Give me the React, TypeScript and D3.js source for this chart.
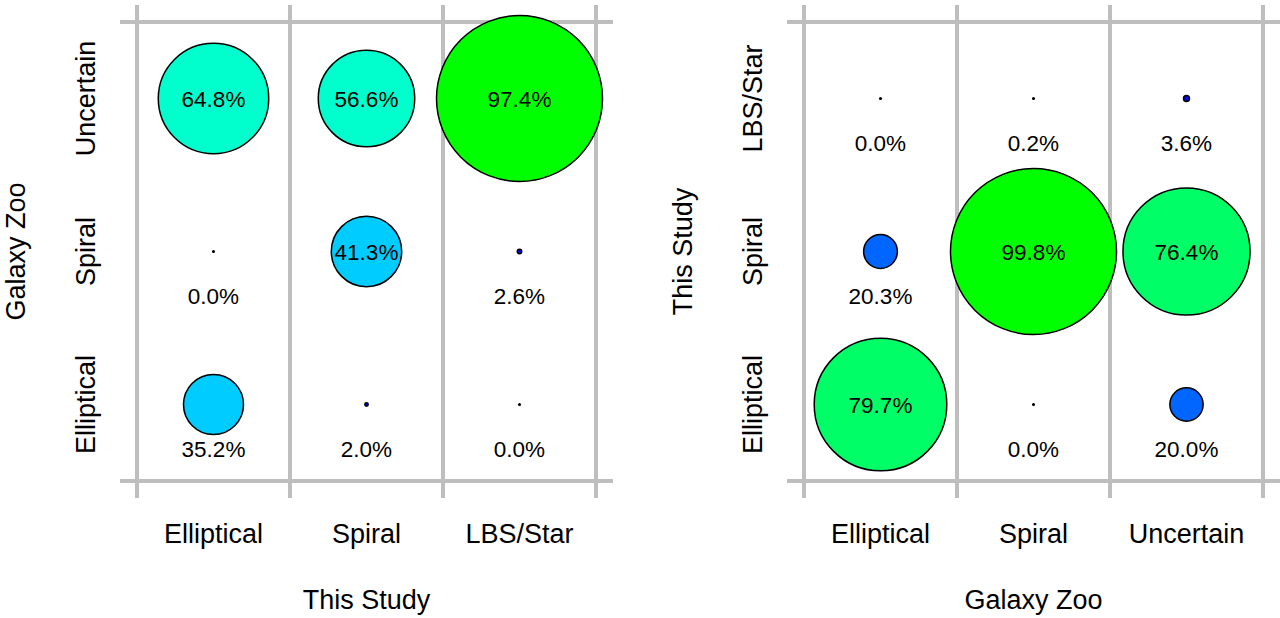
import React from "react";
import * as d3 from "d3";

// Left panel: columns = This Study, rows = Galaxy Zoo
const leftCols = ["Elliptical", "Spiral", "LBS/Star"];
const leftRows = ["Elliptical", "Spiral", "Uncertain"];
const leftElliptical = [35.2, 0.0, 64.8];
const leftSpiral = [2.0, 41.3, 56.6];
const leftLBS = [0.0, 2.6, 97.4];

// Right panel: columns = Galaxy Zoo, rows = This Study
const rightCols = ["Elliptical", "Spiral", "Uncertain"];
const rightRows = ["Elliptical", "Spiral", "LBS/Star"];
const rightElliptical = [79.7, 20.3, 0.0];
const rightSpiral = [0.0, 99.8, 0.2];
const rightUncertain = [20.0, 76.4, 3.6];

const palette = ["#0000ff", "#0066ff", "#00ccff", "#00ffcc", "#00ff66", "#00ff00"];
const FONT = "'Liberation Sans', Arial, Helvetica, sans-serif";
const GRID = "#bebebe";

type PanelProps = {
  ox: number;
  cols: string[];
  rows: string[];
  values: number[][];
  xTitle: string;
  yTitle: string;
};

function Panel({ ox, cols, rows, values, xTitle, yTitle }: PanelProps) {
  const x = d3.scaleBand<string>().domain(cols).range([ox + 137, ox + 596]).padding(0);
  const y = d3.scaleBand<string>().domain(rows).range([481, 22]).padding(0);
  const max = d3.max(values.flat()) as number;
  const r = d3.scaleLinear().domain([0, max]).range([0, 83]);
  const color = d3.scaleQuantize<string>().domain([0, 100]).range(palette);
  const bw = x.bandwidth();
  const xEdges = cols.map((c) => x(c) as number).concat([(x(cols[cols.length - 1]) as number) + bw]);
  const [x0, x1] = x.range();
  const [yb, yt] = y.range();
  const ext = 17;
  const pts: { cx: number; cy: number; v: number }[] = [];
  cols.forEach((c, i) =>
    rows.forEach((rw, j) => {
      pts.push({ cx: (x(c) as number) + bw / 2, cy: (y(rw) as number) + y.bandwidth() / 2, v: values[i][j] });
    })
  );
  return (
    <g>
      {xEdges.map((e, i) => (
        <line key={"v" + i} x1={e} x2={e} y1={yt - ext} y2={yb + ext} stroke={GRID} strokeWidth={4} />
      ))}
      {[yb, yt].map((e, i) => (
        <line key={"h" + i} x1={x0 - ext} x2={x1 + ext} y1={e} y2={e} stroke={GRID} strokeWidth={4} />
      ))}
      {pts.map((p, i) => {
        const rad = Math.max(r(p.v), 0.8);
        const inside = rad >= 32;
        return (
          <g key={"p" + i}>
            <circle cx={p.cx} cy={p.cy} r={rad} fill={color(p.v)} stroke="#000" strokeWidth={1.5} />
            <text
              x={p.cx}
              y={inside ? p.cy : p.cy + 44}
              dy="0.36em"
              textAnchor="middle"
              fontSize={22.5}
              fontFamily={FONT}
              fill="#000"
            >
              {p.v.toFixed(1) + "%"}
            </text>
          </g>
        );
      })}
      {cols.map((c) => (
        <text key={"xt" + c} x={(x(c) as number) + bw / 2} y={543} textAnchor="middle" fontSize={27} fontFamily={FONT}>
          {c}
        </text>
      ))}
      {rows.map((rw) => {
        const cy = (y(rw) as number) + y.bandwidth() / 2;
        const bx = ox + 95;
        return (
          <text
            key={"yt" + rw}
            transform={`translate(${bx},${cy}) rotate(-90)`}
            textAnchor="middle"
            fontSize={27}
            fontFamily={FONT}
          >
            {rw}
          </text>
        );
      })}
      <text x={(x0 + x1) / 2} y={609} textAnchor="middle" fontSize={27} fontFamily={FONT}>
        {xTitle}
      </text>
      <text
        transform={`translate(${ox + 25},${(yb + yt) / 2}) rotate(-90)`}
        textAnchor="middle"
        fontSize={27}
        fontFamily={FONT}
      >
        {yTitle}
      </text>
    </g>
  );
}

export default function App() {
  return (
    <svg
      width={1280}
      height={618}
      style={{ position: "absolute", left: 0, top: 0, background: "#fff" }}
    >
      <rect x={0} y={0} width={1280} height={618} fill="#fff" />
      <Panel
        ox={0}
        cols={leftCols}
        rows={leftRows}
        values={[leftElliptical, leftSpiral, leftLBS]}
        xTitle="This Study"
        yTitle="Galaxy Zoo"
      />
      <Panel
        ox={667}
        cols={rightCols}
        rows={rightRows}
        values={[rightElliptical, rightSpiral, rightUncertain]}
        xTitle="Galaxy Zoo"
        yTitle="This Study"
      />
    </svg>
  );
}
